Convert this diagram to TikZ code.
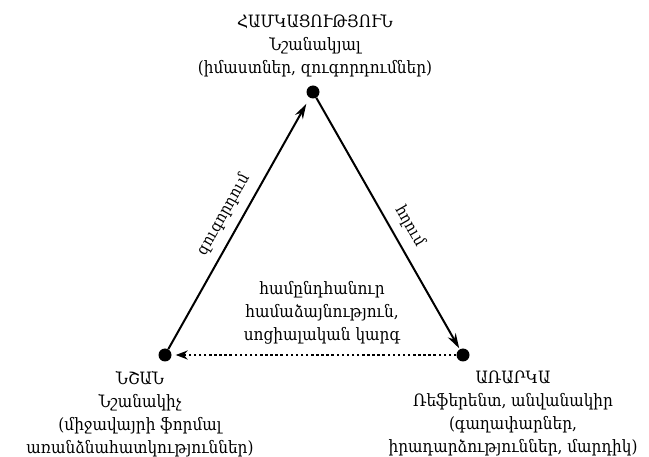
\documentclass[tikz,border=0pt]{standalone}
\usepackage{fontspec}
\setmainfont{DejaVu Serif Condensed}
\usetikzlibrary{arrows.meta}
\begin{document}
\begin{tikzpicture}[x=1pt,y=-1pt,
  lbl/.style={font=\fontsize{17}{23}\selectfont, align=center, inner sep=0pt},
  elbl/.style={font=\fontsize{16}{17}\selectfont, inner sep=0pt, sloped},
  dot/.style={circle, fill=black, minimum size=13pt, inner sep=0pt},
  arr/.style={line width=2pt, -{Stealth[length=15pt,width=9pt]}},
  dotarr/.style={line width=2.5pt, dash pattern=on 2.5pt off 2.6pt, -{Stealth[length=12pt,width=9pt]}}
]
\useasboundingbox (0,0) rectangle (649,457);
\node[dot] (S) at (313,92) {};
\node[dot] (L) at (165,355) {};
\node[dot] (R) at (463,355) {};

\node[lbl, anchor=north] (tS) at (315,14) {ՀԱՄԿԱՑՈՒԹՅՈՒՆ\\Նշանակյալ\\(իմաստներ, զուգորդումներ)};
\node[lbl, anchor=north] (tL) at (140,371) {ՆՇԱՆ\\Նշանակիչ\\(միջավայրի ֆորմալ\\առանձնահատկություններ)};
\node[lbl, anchor=north] (tR) at (513,371) {ԱՌԱՐԿԱ\\Ռեֆերենտ, անվանակիր\\(գաղափարներ,\\իրադարձություններ, մարդիկ)};
\node[lbl, anchor=north] (tM) at (322,281) {համընդհանուր\\համաձայնություն,\\սոցիալական կարգ};

\draw[arr, shorten >=7pt] (L) -- node[elbl, above=9pt, pos=0.5] (eA) {զուգորդում} (S);
\draw[arr, shorten >=1pt] (S) -- node[elbl, above=9pt, pos=0.545] (eB) {հղում} (R);
\draw[dotarr, shorten >=4pt] (R) -- (L);
\end{tikzpicture}
\end{document}
